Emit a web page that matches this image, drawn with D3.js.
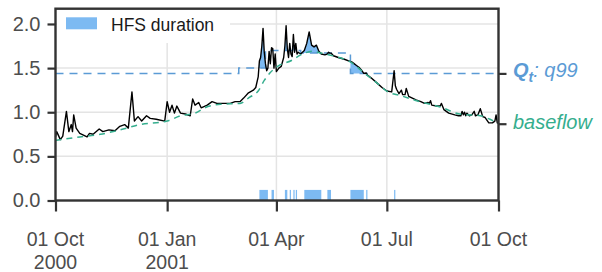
<!DOCTYPE html>
<html>
<head>
<meta charset="utf-8">
<script src="https://cdn.jsdelivr.net/npm/d3@7"></script>
<style>
  body { margin: 0; background: #fff; }
  svg { display: block; font-family: "Liberation Sans", Arial, sans-serif; }
</style>
</head>
<body>
<svg id="chart" width="602" height="272"></svg>
<script>
// day offsets from 01 Oct 2000 and daily flow
const flowDay = [0, 1, 4, 6, 9, 11, 13, 14, 15, 17, 20, 26, 28, 31, 36, 39, 44, 49, 53, 57,
  60, 63, 65, 68, 71, 75, 78, 83, 90, 92, 94, 96, 98, 100, 103, 107, 111, 113, 115, 118,
  120, 125, 129, 133, 138, 144, 148, 152, 155, 159, 163, 165, 167, 168, 169, 170, 171, 172,
  173, 174, 175, 176, 177, 178, 179, 180, 181, 182, 184, 186, 188, 189, 190, 191, 192, 193,
  194, 195, 196, 197, 198, 199, 200, 202, 205, 207, 209, 211, 213, 215, 217, 219, 222, 224,
  225, 226, 227, 229, 233, 238, 242, 244, 246, 248, 250, 252, 254, 256, 257, 260, 265, 269,
  273, 277, 279, 280, 281, 283, 285, 286, 288, 289, 291, 294, 297, 301, 304, 307, 308, 309,
  310, 314, 317, 318, 320, 324, 329, 332, 334, 335, 336, 337, 338, 339, 341, 343, 345, 346,
  348, 350, 352, 354, 357, 360, 362, 363, 364, 365];
const flowValue = [0.72, 0.78, 0.69, 0.73, 1.01, 0.78, 0.86, 0.78, 0.97, 0.82, 0.76, 0.72, 0.76, 0.75, 0.81, 0.78, 0.80, 0.79, 0.84, 0.86,
  0.82, 1.23, 0.90, 0.95, 0.90, 0.96, 0.93, 0.92, 0.90, 1.12, 1.00, 1.08, 0.99, 1.07, 0.99, 0.98, 0.96, 1.15, 1.08, 1.11,
  1.05, 1.08, 1.12, 1.10, 1.10, 1.10, 1.12, 1.12, 1.16, 1.22, 1.25, 1.28, 1.40, 1.58, 1.62, 1.75, 1.95, 1.68,
  1.55, 1.47, 1.50, 1.69, 1.55, 1.73, 1.72, 1.50, 1.66, 1.46, 1.50, 1.52, 1.62, 1.75, 1.98, 1.72, 1.62, 1.78,
  1.66, 1.63, 1.88, 1.68, 1.78, 1.66, 1.68, 1.66, 1.70, 1.78, 1.91, 1.76, 1.74, 1.76, 1.69, 1.66, 1.65, 1.66,
  1.68, 1.67, 1.67, 1.64, 1.62, 1.60, 1.58, 1.57, 1.55, 1.53, 1.51, 1.48, 1.44, 1.445, 1.42, 1.39, 1.33, 1.28,
  1.24, 1.23, 1.47, 1.30, 1.26, 1.21, 1.25, 1.20, 1.20, 1.27, 1.18, 1.16, 1.14, 1.12, 1.10, 1.11, 1.10, 1.13,
  1.08, 1.07, 1.07, 1.10, 1.03, 0.99, 0.97, 0.96, 0.96, 1.01, 0.97, 1.00, 0.96, 0.99, 0.96, 0.97, 1.01, 0.96,
  0.97, 1.04, 0.95, 0.94, 0.88, 0.88, 0.90, 0.97, 0.88, 0.87];

const baseDay = [0, 20, 37, 53, 70, 92, 103, 115, 123, 136, 152, 160, 167, 172, 177, 183, 195, 202,
  212, 219, 231, 243, 253, 265, 274, 284, 300, 317, 333, 350, 358, 365];
const baseValue = [0.68, 0.72, 0.75, 0.80, 0.86, 0.90, 0.96, 0.99, 1.05, 1.09, 1.10, 1.17, 1.24, 1.36, 1.45, 1.52, 1.59, 1.65,
  1.69, 1.67, 1.63, 1.57, 1.46, 1.33, 1.23, 1.19, 1.12, 1.06, 0.98, 0.96, 0.92, 0.87];

// threshold (q99) steps
const qtDay = [0, 151, 173, 202, 243, 365];
const qtValue = [1.44, 1.50, 1.70, 1.67, 1.44, 1.44];

// high flow spell days (end exclusive)
const hfsStart = [168, 178, 189, 193, 196, 198, 205, 224, 243, 256, 279];
const hfsEnd = [175, 180, 191, 194, 197, 199, 219, 227, 254, 257, 280];

const yTicks = [0, 0.5, 1, 1.5, 2];
const xTickDates = ['2000-10-01', '2001-01-01', '2001-04-01', '2001-07-01', '2001-10-01'];
const xTickLabels = [['01 Oct', '2000'], ['01 Jan', '2001'], ['01 Apr'], ['01 Jul'], ['01 Oct']];

const baseEnd = baseValue[baseValue.length - 1];
const qtEnd = qtValue[qtValue.length - 1];

const colFlow = '#000000';
const colBase = '#35ae8e';
const colQt = '#5b9bd5';
const colHfs = '#7dbaf2';
const colAxis = '#333333';
const colText = '#4d4d4d';

const start = Date.UTC(2000, 9, 1);
const dayToDate = d => new Date(start + d * 864e5);
const parse = d3.utcParse('%Y-%m-%d');

const pLeft = 55.5, pRight = 498.5, pTop = 8.7, pBottom = 200.5;

const x = d3.scaleUtc()
    .domain([dayToDate(0), dayToDate(365)])
    .range([pLeft, pRight]);
const y = d3.scaleLinear()
    .domain([0, 2.173])
    .range([pBottom, pTop]);

const flow = flowDay.map((d, i) => ({ date: dayToDate(d), v: flowValue[i] }));
const base = baseDay.map((d, i) => ({ date: dayToDate(d), v: baseValue[i] }));
const qt = qtDay.map((d, i) => ({ date: dayToDate(d), v: qtValue[i] }));

const svg = d3.select('#chart');

// grid
const grid = svg.append('g').attr('stroke', '#e4e4e4').attr('stroke-width', 1.5);
grid.selectAll('line.h').data(yTicks.slice(1)).enter().append('line')
    .attr('x1', pLeft).attr('x2', pRight)
    .attr('y1', d => y(d)).attr('y2', d => y(d));
grid.selectAll('line.v').data(xTickDates.slice(1, -1)).enter().append('line')
    .attr('x1', d => x(parse(d))).attr('x2', d => x(parse(d)))
    .attr('y1', pTop).attr('y2', pBottom);

// hfs duration bars
svg.append('g').selectAll('rect').data(hfsStart).enter().append('rect')
    .attr('x', d => x(dayToDate(d)))
    .attr('width', (d, i) => x(dayToDate(hfsEnd[i])) - x(dayToDate(d)))
    .attr('y', y(0.12))
    .attr('height', y(0) - y(0.12))
    .attr('fill', colHfs);

// shaded area where flow is above the threshold
svg.append('clipPath').attr('id', 'aboveQt')
    .append('path')
    .attr('d', d3.area().curve(d3.curveStepAfter)
        .x(d => x(d.date)).y0(pTop).y1(d => y(d.v))(qt));
svg.append('path')
    .attr('clip-path', 'url(#aboveQt)')
    .attr('fill', colHfs)
    .attr('d', d3.area().x(d => x(d.date)).y0(pBottom).y1(d => y(d.v))(flow));

// threshold line
svg.append('path')
    .attr('fill', 'none')
    .attr('stroke', colQt)
    .attr('stroke-width', 1.5)
    .attr('stroke-dasharray', '8,6')
    .attr('d', d3.line().curve(d3.curveStepAfter).x(d => x(d.date)).y(d => y(d.v))(qt));

// flow
svg.append('path')
    .attr('fill', 'none')
    .attr('stroke', colFlow)
    .attr('stroke-width', 1.4)
    .attr('stroke-linejoin', 'round')
    .attr('d', d3.line().x(d => x(d.date)).y(d => y(d.v))(flow));

// baseflow
svg.append('path')
    .attr('fill', 'none')
    .attr('stroke', colBase)
    .attr('stroke-width', 1.5)
    .attr('stroke-dasharray', '6,5')
    .attr('d', d3.line().curve(d3.curveMonotoneX).x(d => x(d.date)).y(d => y(d.v))(base));

// legend
svg.append('rect').attr('x', 57).attr('y', 10).attr('width', 173).attr('height', 33).attr('fill', '#fff');
svg.append('rect').attr('x', 66).attr('y', 17.3).attr('width', 31).attr('height', 12).attr('fill', colHfs);
svg.append('text').attr('x', 111).attr('y', 30.5)
    .attr('font-size', 17.5).attr('fill', '#1a1a1a').text('HFS duration');

// panel border
svg.append('rect')
    .attr('x', pLeft).attr('y', pTop)
    .attr('width', pRight - pLeft).attr('height', pBottom - pTop)
    .attr('fill', 'none').attr('stroke', colAxis).attr('stroke-width', 2.4);

// y axis
const yAxis = svg.append('g')
    .attr('transform', `translate(${pLeft},0)`)
    .call(d3.axisLeft(y).tickValues(yTicks).tickFormat(d3.format('.1f')).tickSize(8).tickPadding(7));
yAxis.select('.domain').remove();
yAxis.selectAll('line').attr('stroke', colAxis).attr('stroke-width', 2.2);
yAxis.selectAll('text').attr('font-size', 20).attr('fill', colText);
yAxis.attr('font-family', null).attr('font-size', null);

// x axis
const xAxis = svg.append('g')
    .attr('transform', `translate(0,${pBottom})`)
    .call(d3.axisBottom(x).tickValues(xTickDates.map(parse)).tickFormat('').tickSize(11));
xAxis.select('.domain').remove();
xAxis.selectAll('line').attr('stroke', colAxis).attr('stroke-width', 2.2);

const xLab = svg.append('g').attr('font-size', 19.5).attr('fill', colText).attr('text-anchor', 'middle');
xTickDates.forEach((d, i) => {
    const t = xLab.append('text').attr('x', x(parse(d))).attr('y', 245.5);
    xTickLabels[i].forEach((s, j) => {
        t.append('tspan').attr('x', x(parse(d))).attr('dy', j ? 23.5 : 0).text(s);
    });
});

// right side ticks and labels
const rAxis = svg.append('g')
    .attr('transform', `translate(${pRight},0)`)
    .call(d3.axisRight(y).tickValues([qtEnd, baseEnd]).tickFormat('').tickSize(8));
rAxis.select('.domain').remove();
rAxis.selectAll('line').attr('stroke', colAxis).attr('stroke-width', 2.2);

const qtLab = svg.append('text')
    .attr('x', 513).attr('y', y(qtEnd) + 3.5)
    .attr('font-size', 20).attr('font-style', 'italic').attr('fill', colQt);
qtLab.append('tspan').attr('font-weight', 'bold').text('Q');
qtLab.append('tspan').attr('font-weight', 'bold').attr('font-size', 14).attr('dy', 5).text('t');
qtLab.append('tspan').attr('dy', -5).text(': q99');

svg.append('text')
    .attr('x', 513).attr('y', y(baseEnd) + 5)
    .attr('font-size', 20).attr('font-style', 'italic').attr('fill', colBase)
    .text('baseflow');
</script>
</body>
</html>
